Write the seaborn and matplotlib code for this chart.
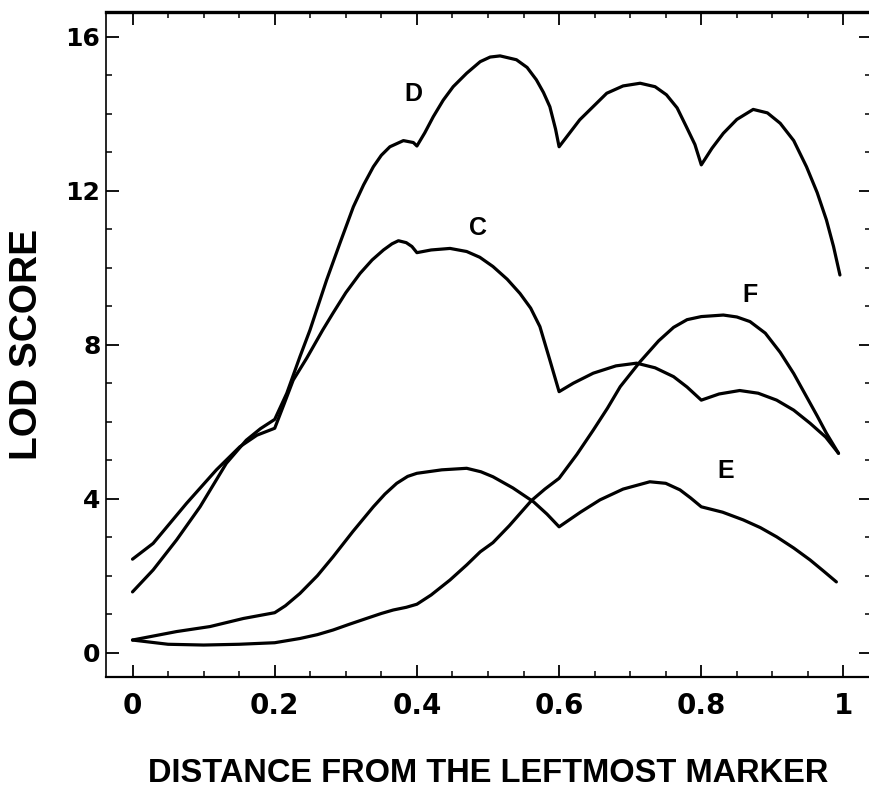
import matplotlib
matplotlib.use("Agg")
import matplotlib.pyplot as plt
from matplotlib.ticker import MultipleLocator, FixedLocator
import seaborn as sns
import pandas as pd

# LOD score profiles along the interval (distance from the leftmost marker)
d_x = [0.0, 0.029, 0.062, 0.095, 0.132, 0.160, 0.180, 0.200, 0.217, 0.2355, 0.2496,
       0.273, 0.292, 0.3106, 0.325, 0.3387, 0.350, 0.362, 0.381, 0.395, 0.400,
       0.411, 0.423, 0.437, 0.451, 0.470, 0.489, 0.503, 0.517, 0.540, 0.555, 0.568,
       0.578, 0.587, 0.595, 0.600, 0.629, 0.667, 0.690, 0.714, 0.735, 0.751, 0.766,
       0.779, 0.791, 0.800, 0.815, 0.831, 0.850, 0.873, 0.893, 0.911, 0.930, 0.948,
       0.963, 0.976, 0.986, 0.995]
d_y = [1.58, 2.15, 2.93, 3.79, 4.92, 5.52, 5.82, 6.06, 6.74, 7.69, 8.38,
       9.68, 10.65, 11.58, 12.15, 12.62, 12.92, 13.14, 13.30, 13.25, 13.16,
       13.50, 13.92, 14.35, 14.70, 15.05, 15.35, 15.47, 15.50, 15.40, 15.20, 14.88,
       14.55, 14.18, 13.60, 13.14, 13.84, 14.53, 14.72, 14.79, 14.70, 14.49, 14.15,
       13.66, 13.20, 12.67, 13.10, 13.49, 13.85, 14.11, 14.02, 13.75, 13.30, 12.62,
       11.95, 11.24, 10.55, 9.81]

c_x = [0.0, 0.029, 0.076, 0.118, 0.151, 0.175, 0.200, 0.213, 0.226, 0.245, 0.2675,
       0.282, 0.300, 0.320, 0.337, 0.353, 0.365, 0.374, 0.385, 0.393, 0.400, 0.420,
       0.4466, 0.470, 0.4885, 0.507, 0.527, 0.545, 0.560, 0.573, 0.587, 0.600, 0.620,
       0.648, 0.680, 0.709, 0.735, 0.761, 0.780, 0.800, 0.825, 0.854, 0.880, 0.906,
       0.930, 0.953, 0.975, 0.993]
c_y = [2.43, 2.84, 3.88, 4.75, 5.35, 5.65, 5.83, 6.45, 7.08, 7.65, 8.38,
       8.82, 9.35, 9.85, 10.20, 10.46, 10.62, 10.70, 10.65, 10.55, 10.39, 10.46,
       10.50, 10.42, 10.27, 10.03, 9.70, 9.33, 8.95, 8.47, 7.60, 6.78, 7.00,
       7.26, 7.45, 7.52, 7.40, 7.17, 6.90, 6.56, 6.72, 6.81, 6.74, 6.56,
       6.30, 5.96, 5.60, 5.18]

e_x = [0.0, 0.062, 0.109, 0.156, 0.200, 0.215, 0.2355, 0.260, 0.282, 0.310, 0.3387,
       0.355, 0.3716, 0.387, 0.400, 0.435, 0.470, 0.490, 0.507, 0.535, 0.564, 0.583,
       0.600, 0.630, 0.6575, 0.690, 0.7276, 0.750, 0.770, 0.785, 0.800, 0.830, 0.859,
       0.883, 0.906, 0.930, 0.953, 0.972, 0.990]
e_y = [0.33, 0.55, 0.68, 0.89, 1.04, 1.22, 1.54, 2.00, 2.49, 3.15, 3.79,
       4.12, 4.40, 4.58, 4.66, 4.75, 4.79, 4.70, 4.57, 4.28, 3.92, 3.60,
       3.27, 3.65, 3.97, 4.25, 4.44, 4.40, 4.23, 4.02, 3.79, 3.65, 3.45,
       3.25, 3.01, 2.72, 2.41, 2.12, 1.84]

f_x = [0.0, 0.050, 0.100, 0.150, 0.200, 0.2355, 0.260, 0.282, 0.305, 0.329, 0.350,
       0.3667, 0.385, 0.400, 0.420, 0.4466, 0.470, 0.489, 0.507, 0.530, 0.561, 0.580,
       0.600, 0.625, 0.648, 0.668, 0.686, 0.714, 0.740, 0.761, 0.780, 0.800, 0.831,
       0.850, 0.8685, 0.890, 0.911, 0.930, 0.948, 0.963, 0.976, 0.993]
f_y = [0.33, 0.22, 0.20, 0.22, 0.26, 0.37, 0.47, 0.59, 0.74, 0.89, 1.02,
       1.11, 1.18, 1.26, 1.50, 1.89, 2.28, 2.62, 2.86, 3.30, 3.95, 4.25,
       4.53, 5.15, 5.78, 6.35, 6.91, 7.56, 8.10, 8.45, 8.65, 8.73, 8.77,
       8.72, 8.60, 8.30, 7.80, 7.25, 6.65, 6.15, 5.70, 5.18]

curve_names = ["D", "C", "E", "F"]
label_x = [0.3945, 0.486, 0.834, 0.868]
label_y = [14.50, 11.03, 4.72, 9.30]

x_ticks = [0, 0.2, 0.4, 0.6, 0.8, 1]
x_tick_labels = ["0", "0.2", "0.4", "0.6", "0.8", "1"]
y_ticks = [0, 4, 8, 12, 16]
y_tick_labels = ["0", "4", "8", "12", "16"]

sns.set_style("ticks")
plt.rcParams["font.family"] = ["Liberation Sans", "DejaVu Sans"]
plt.rcParams.update({
    "text.color": "black",
    "axes.labelcolor": "black",
    "xtick.color": "black",
    "ytick.color": "black",
    "axes.edgecolor": "black",
})

frames = []
for name, xs, ys in zip(curve_names, [d_x, c_x, e_x, f_x], [d_y, c_y, e_y, f_y]):
    frames.append(pd.DataFrame({"distance": xs, "lod": ys, "curve": name}))
data = pd.concat(frames, ignore_index=True)

fig = plt.figure(figsize=(8.69, 7.90), dpi=100)
ax = fig.add_axes([106 / 869, 1 - 677 / 790, (871 - 106) / 869, (677 - 12) / 790])

sns.lineplot(data=data, x="distance", y="lod", units="curve", estimator=None,
             sort=False, color="black", linewidth=2.3, ax=ax, legend=False)
for line in ax.get_lines():
    line.set_solid_joinstyle("round")

ax.set_xlim(-0.0373, 1.0387)
ax.set_ylim(-0.63, 16.64)

for name, lx, ly in zip(curve_names, label_x, label_y):
    ax.text(lx, ly, name, ha="center", va="center", fontsize=18,
            fontweight="bold", family="Liberation Sans", color="black")

ax.xaxis.set_major_locator(FixedLocator(x_ticks))
ax.set_xticklabels(x_tick_labels)
ax.xaxis.set_minor_locator(MultipleLocator(0.05))
ax.yaxis.set_major_locator(FixedLocator(y_ticks))
ax.set_yticklabels(y_tick_labels)
ax.yaxis.set_minor_locator(MultipleLocator(1))

ax.tick_params(which="both", direction="in", top=True, right=True, color="black")
ax.tick_params(which="major", length=9, width=1.3)
ax.tick_params(which="minor", length=4, width=1.1)
ax.tick_params(axis="x", which="major", pad=11)
ax.tick_params(axis="y", which="major", pad=4)

for lab in ax.get_xticklabels():
    lab.set_fontfamily("DejaVu Sans")
    lab.set_fontweight("bold")
    lab.set_fontsize(20)
for lab in ax.get_yticklabels():
    lab.set_fontfamily("DejaVu Sans")
    lab.set_fontweight("bold")
    lab.set_fontsize(18)

for side, lw in [("top", 2.4), ("bottom", 1.6), ("left", 1.2), ("right", 1.2)]:
    ax.spines[side].set_linewidth(lw)
    ax.spines[side].set_color("black")

ax.set_xlabel("DISTANCE FROM THE LEFTMOST MARKER", fontsize=23.5, fontweight="bold",
              labelpad=27)
ax.set_ylabel("LOD SCORE", fontsize=28, fontweight="bold", labelpad=15)

fig.savefig("out.png", dpi=100, facecolor="white")
